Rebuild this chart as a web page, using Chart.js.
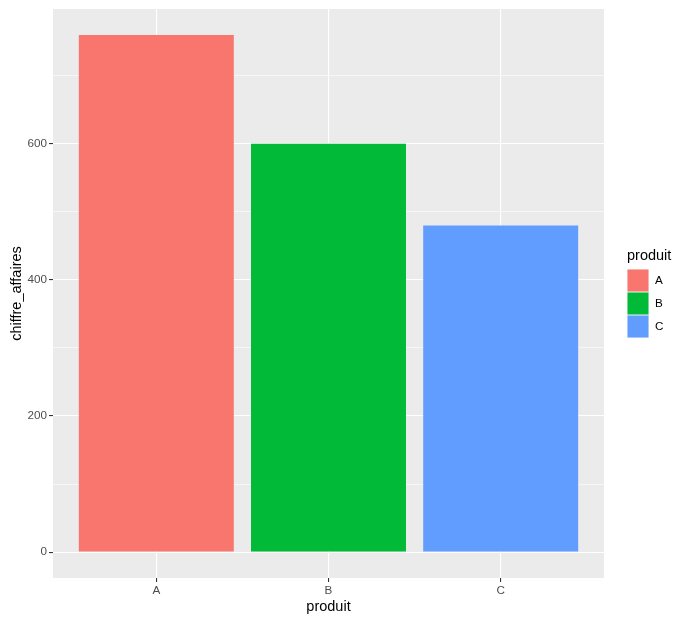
<!DOCTYPE html>
<html>
<head>
<meta charset="utf-8">
<script src="https://cdn.jsdelivr.net/npm/chart.js@4/dist/chart.umd.min.js"></script>
<style>
  html, body { margin: 0; padding: 0; background: #fff; }
  canvas { display: block; }
</style>
</head>
<body>
<canvas id="chart" width="685" height="623"></canvas>
<script>
// data
const categories = ['A', 'B', 'C']
const chiffreAffaires = [760, 600, 480]
const yMajorTicks = [0, 200, 400, 600]
const yMinorTicks = [100, 300, 500, 700]

const barColors = ['#F8766D', '#00BA38', '#619CFF']
const FONT = '"Liberation Sans", Arial, sans-serif'

// grey ggplot panel
const panelBg = {
  id: 'panelBg',
  beforeDraw(chart) {
    const a = chart.chartArea
    const c = chart.ctx
    c.save()
    c.fillStyle = '#EBEBEB'
    c.fillRect(a.left, a.top, a.right - a.left, a.bottom - a.top)
    c.restore()
  }
}

// legend on the right, ggplot style
const sideLegend = {
  id: 'sideLegend',
  afterDraw(chart) {
    const c = chart.ctx
    const x0 = 627, y0 = 269, key = 22
    c.save()
    c.fillStyle = '#000'
    c.font = '14.5px ' + FONT
    c.textBaseline = 'middle'
    c.textAlign = 'left'
    c.fillText('produit', 627, 256)
    c.font = '11.7px ' + FONT
    categories.forEach((cat, i) => {
      const y = y0 + i * (key + 1)
      c.fillStyle = '#F2F2F2'
      c.fillRect(x0, y, key, key + 1)
      c.fillStyle = barColors[i]
      c.fillRect(x0 + 0.5, y + 0.5, key - 1, key)
      c.fillStyle = '#000'
      c.fillText(cat, 655, y + key / 2 + 1)
    })
    c.restore()
  }
}

const isMajor = (v) => yMajorTicks.includes(v)

new Chart(document.getElementById('chart'), {
  type: 'bar',
  data: {
    datasets: [{
      data: categories.map((c, i) => ({ x: i + 1, y: chiffreAffaires[i] })),
      backgroundColor: barColors,
      borderWidth: 0,
      inflateAmount: 0,
      barPercentage: 0.9,
      categoryPercentage: 1
    }]
  },
  options: {
    responsive: false,
    animation: false,
    events: [],
    layout: { padding: { top: 7, right: 81, left: 0, bottom: 0 } },
    plugins: { legend: { display: false }, tooltip: { enabled: false } },
    scales: {
      x: {
        type: 'linear',
        offset: false,
        min: 0.4,
        max: 3.6,
        afterBuildTicks: (s) => { s.ticks = categories.map((c, i) => ({ value: i + 1 })) },
        afterFit: (s) => { s.height = 45 },
        ticks: {
          callback: (v) => categories[v - 1],
          autoSkip: false,
          maxRotation: 0,
          padding: 2,
          color: '#4D4D4D',
          font: { family: FONT, size: 11.7 }
        },
        grid: { offset: false, color: '#FFFFFF', lineWidth: 1.1, tickColor: '#333333', tickLength: 4 },
        border: { display: false },
        title: {
          display: true,
          text: 'produit',
          color: '#000',
          font: { family: FONT, size: 14.5 },
          padding: { top: 0, bottom: 7 }
        }
      },
      y: {
        min: -38,
        max: 798,
        afterBuildTicks: (s) => {
          s.ticks = yMajorTicks.concat(yMinorTicks).sort((a, b) => a - b).map((v) => ({ value: v }))
        },
        afterFit: (s) => { s.width = 53 },
        ticks: {
          callback: (v) => isMajor(v) ? v : '',
          autoSkip: false,
          padding: 2,
          color: '#4D4D4D',
          font: { family: FONT, size: 11.7 }
        },
        grid: {
          color: '#FFFFFF',
          lineWidth: (ctx) => isMajor(ctx.tick.value) ? 1.1 : 0.55,
          tickColor: (ctx) => isMajor(ctx.tick.value) ? '#333333' : 'rgba(0,0,0,0)',
          tickLength: 4
        },
        border: { display: false },
        title: {
          display: true,
          text: 'chiffre_affaires',
          color: '#000',
          font: { family: FONT, size: 14.5 },
          padding: { top: 8, bottom: 0 }
        }
      }
    }
  },
  plugins: [panelBg, sideLegend]
})
</script>
</body>
</html>
